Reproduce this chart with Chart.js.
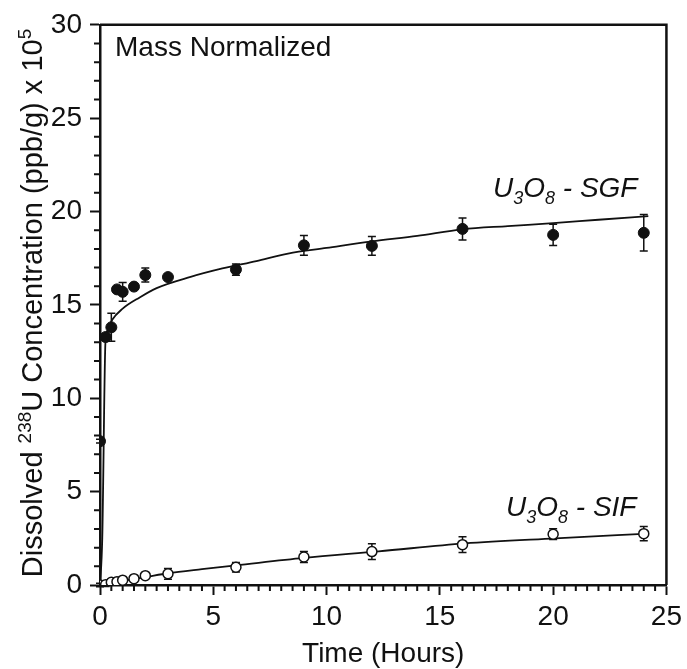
<!DOCTYPE html>
<html><head><meta charset="utf-8">
<script src="https://cdn.jsdelivr.net/npm/chart.js@4.4.0/dist/chart.umd.min.js"></script>
<style>html,body{margin:0;padding:0;background:#fff;}canvas{display:block;}</style>
</head><body>
<canvas id="c" width="687" height="669"></canvas>
<script>
// ---- data ----
const xTickValues = [0, 5, 10, 15, 20, 25];
const yTickValues = [0, 5, 10, 15, 20, 25, 30];

const sgfTime = [0, 0.25, 0.5, 0.75, 1, 1.5, 2, 3, 6, 9, 12, 16, 20, 24];
const sgfConc = [7.7, 13.28, 13.8, 15.83, 15.7, 15.98, 16.6, 16.49, 16.89, 18.19, 18.16, 19.07, 18.75, 18.86];
const sgfErr  = [0.1, 0.1, 0.75, 0.1, 0.5, 0.1, 0.37, 0.1, 0.3, 0.53, 0.5, 0.59, 0.57, 0.98];

const sifTime = [0, 0.25, 0.5, 0.75, 1, 1.5, 2, 3, 6, 9, 12, 16, 20, 24];
const sifConc = [0, 0.02, 0.15, 0.18, 0.26, 0.34, 0.5, 0.6, 0.95, 1.5, 1.79, 2.16, 2.72, 2.75];
const sifErr  = [0.1, 0.1, 0.1, 0.1, 0.1, 0.1, 0.1, 0.29, 0.25, 0.3, 0.42, 0.42, 0.29, 0.38];

// fitted curves
const sgfFitTime = [0, 0.1, 0.24, 0.32, 0.54, 1.0, 1.75, 2.5, 4, 5.4, 6.9, 8.3, 10, 12, 14, 16, 18, 20, 22, 24.2];
const sgfFitConc = [0, 2.5, 13.0, 13.6, 14.2, 14.8, 15.4, 15.9, 16.5, 16.95, 17.35, 17.75, 18.05, 18.4, 18.7, 19.05, 19.22, 19.38, 19.56, 19.75];
const sifFitTime = [0, 0.5, 1, 2, 3, 4.5, 6, 9, 12.3, 16.1, 20.1, 24.2];
const sifFitConc = [0, 0.12, 0.22, 0.42, 0.63, 0.85, 1.05, 1.45, 1.8, 2.23, 2.5, 2.75];

// ---- styling ----
const FAM = '"Liberation Sans", Arial, Helvetica, sans-serif';
const INK = '#111';

const pts = (xs, ys) => xs.map((x, i) => ({x: x, y: ys[i]}));

const errorBars = {
  id: 'errorBars',
  beforeDatasetsDraw(chart) {
    const ctx = chart.ctx, xs = chart.scales.x, ys = chart.scales.y;
    ctx.save();
    ctx.strokeStyle = INK; ctx.lineWidth = 1.5;
    chart.data.datasets.forEach(ds => {
      if (!ds.errors) return;
      ds.data.forEach((p, i) => {
        const e = ds.errors[i];
        const px = xs.getPixelForValue(p.x);
        const y1 = ys.getPixelForValue(p.y + e), y2 = ys.getPixelForValue(p.y - e);
        ctx.beginPath();
        ctx.moveTo(px, y1); ctx.lineTo(px, y2);
        ctx.moveTo(px - 4, y1); ctx.lineTo(px + 4, y1);
        ctx.moveTo(px - 4, y2); ctx.lineTo(px + 4, y2);
        ctx.stroke();
      });
    });
    ctx.restore();
  }
};

function drawRich(ctx, segs, x, y) {
  let cx = x;
  segs.forEach(s => {
    ctx.font = (s.italic ? 'italic ' : '') + s.size + 'px ' + FAM;
    ctx.fillText(s.t, cx, y + (s.dy || 0));
    cx += ctx.measureText(s.t).width;
  });
  return cx - x;
}
function measureRich(ctx, segs) {
  let w = 0;
  segs.forEach(s => {
    ctx.font = (s.italic ? 'italic ' : '') + s.size + 'px ' + FAM;
    w += ctx.measureText(s.t).width;
  });
  return w;
}

const yTitleSegs = [
  {t: 'Dissolved ', size: 29},
  {t: '238', size: 19, dy: -11},
  {t: 'U Concentration (ppb/g) x 10', size: 29},
  {t: '5', size: 19, dy: -11}
];
const sgfLabel = [
  {t: 'U', size: 28, italic: true}, {t: '3', size: 18, italic: true, dy: 7},
  {t: 'O', size: 28, italic: true}, {t: '8', size: 18, italic: true, dy: 7},
  {t: ' - SGF', size: 28, italic: true}
];
const sifLabel = [
  {t: 'U', size: 28, italic: true}, {t: '3', size: 18, italic: true, dy: 7},
  {t: 'O', size: 28, italic: true}, {t: '8', size: 18, italic: true, dy: 7},
  {t: ' - SIF', size: 28, italic: true}
];

const decorations = {
  id: 'decorations',
  afterDraw(chart) {
    const ctx = chart.ctx, a = chart.chartArea, xs = chart.scales.x, ys = chart.scales.y;
    ctx.save();
    // frame top/right
    ctx.strokeStyle = INK; ctx.lineWidth = 2.5;
    ctx.beginPath();
    ctx.moveTo(a.left, a.top); ctx.lineTo(a.right, a.top); ctx.lineTo(a.right, a.bottom);
    ctx.stroke();
    // minor ticks
    ctx.lineWidth = 2;
    ctx.beginPath();
    for (let v = 0.5; v < 25; v += 0.5) {
      if (Math.abs(v % 5) < 1e-6) continue;
      const px = xs.getPixelForValue(v);
      ctx.moveTo(px, a.bottom); ctx.lineTo(px, a.bottom + 6);
    }
    for (let v = 1; v < 30; v += 1) {
      if (v % 5 === 0) continue;
      const py = ys.getPixelForValue(v);
      ctx.moveTo(a.left - 6, py); ctx.lineTo(a.left, py);
    }
    ctx.stroke();
    // texts
    ctx.fillStyle = INK;
    ctx.textBaseline = 'alphabetic';
    ctx.textAlign = 'left';
    ctx.font = '28px ' + FAM;
    ctx.fillText('Mass Normalized', a.left + 15, a.top + 31);
    drawRich(ctx, sgfLabel, 493, 197);
    drawRich(ctx, sifLabel, 506, 516);
    // y title
    ctx.translate(42, 303);
    ctx.rotate(-Math.PI / 2);
    const w = measureRich(ctx, yTitleSegs);
    drawRich(ctx, yTitleSegs, -w / 2, 0);
    ctx.restore();
  }
};

new Chart(document.getElementById('c'), {
  type: 'scatter',
  data: {
    datasets: [
      {label: 'U3O8 - SGF', data: pts(sgfTime, sgfConc), errors: sgfErr, order: 0,
       pointRadius: 5.5, pointBackgroundColor: INK, pointBorderColor: INK, pointBorderWidth: 1, showLine: false},
      {label: 'U3O8 - SIF', data: pts(sifTime, sifConc), errors: sifErr, order: 0,
       pointRadius: 5, pointBackgroundColor: '#fff', pointBorderColor: INK, pointBorderWidth: 1.5, showLine: false},
      {label: 'SGF fit', data: pts(sgfFitTime, sgfFitConc), order: 1, showLine: true, pointRadius: 0,
       borderColor: INK, borderWidth: 1.8, cubicInterpolationMode: 'monotone'},
      {label: 'SIF fit', data: pts(sifFitTime, sifFitConc), order: 1, showLine: true, pointRadius: 0,
       borderColor: INK, borderWidth: 1.8, cubicInterpolationMode: 'monotone'}
    ]
  },
  options: {
    responsive: false, animation: false, devicePixelRatio: 1,
    layout: {padding: {top: 15, right: 15, left: 0, bottom: 0}},
    plugins: {legend: {display: false}, tooltip: {enabled: false}},
    scales: {
      x: {
        type: 'linear', min: 0, max: 25,
        afterBuildTicks: s => { s.ticks = xTickValues.map(v => ({value: v})); },
        afterFit: s => { s.height = 84; },
        ticks: {font: {size: 28, family: FAM}, color: INK, padding: 5, maxRotation: 0, autoSkip: false},
        grid: {drawOnChartArea: false, tickLength: 10, tickColor: INK, tickWidth: 2},
        border: {color: INK, width: 2.5},
        title: {display: true, text: 'Time (Hours)', color: INK, font: {size: 28, family: FAM}, padding: {top: 0, bottom: -2}}
      },
      y: {
        type: 'linear', min: 0, max: 30,
        afterBuildTicks: s => { s.ticks = yTickValues.map(v => ({value: v})); },
        afterFit: s => { s.width = 100; },
        ticks: {font: {size: 28, family: FAM}, color: INK, padding: 8, autoSkip: false},
        grid: {drawOnChartArea: false, tickLength: 10, tickColor: INK, tickWidth: 2},
        border: {color: INK, width: 2.5}
      }
    }
  },
  plugins: [errorBars, decorations]
});
</script>
</body></html>
